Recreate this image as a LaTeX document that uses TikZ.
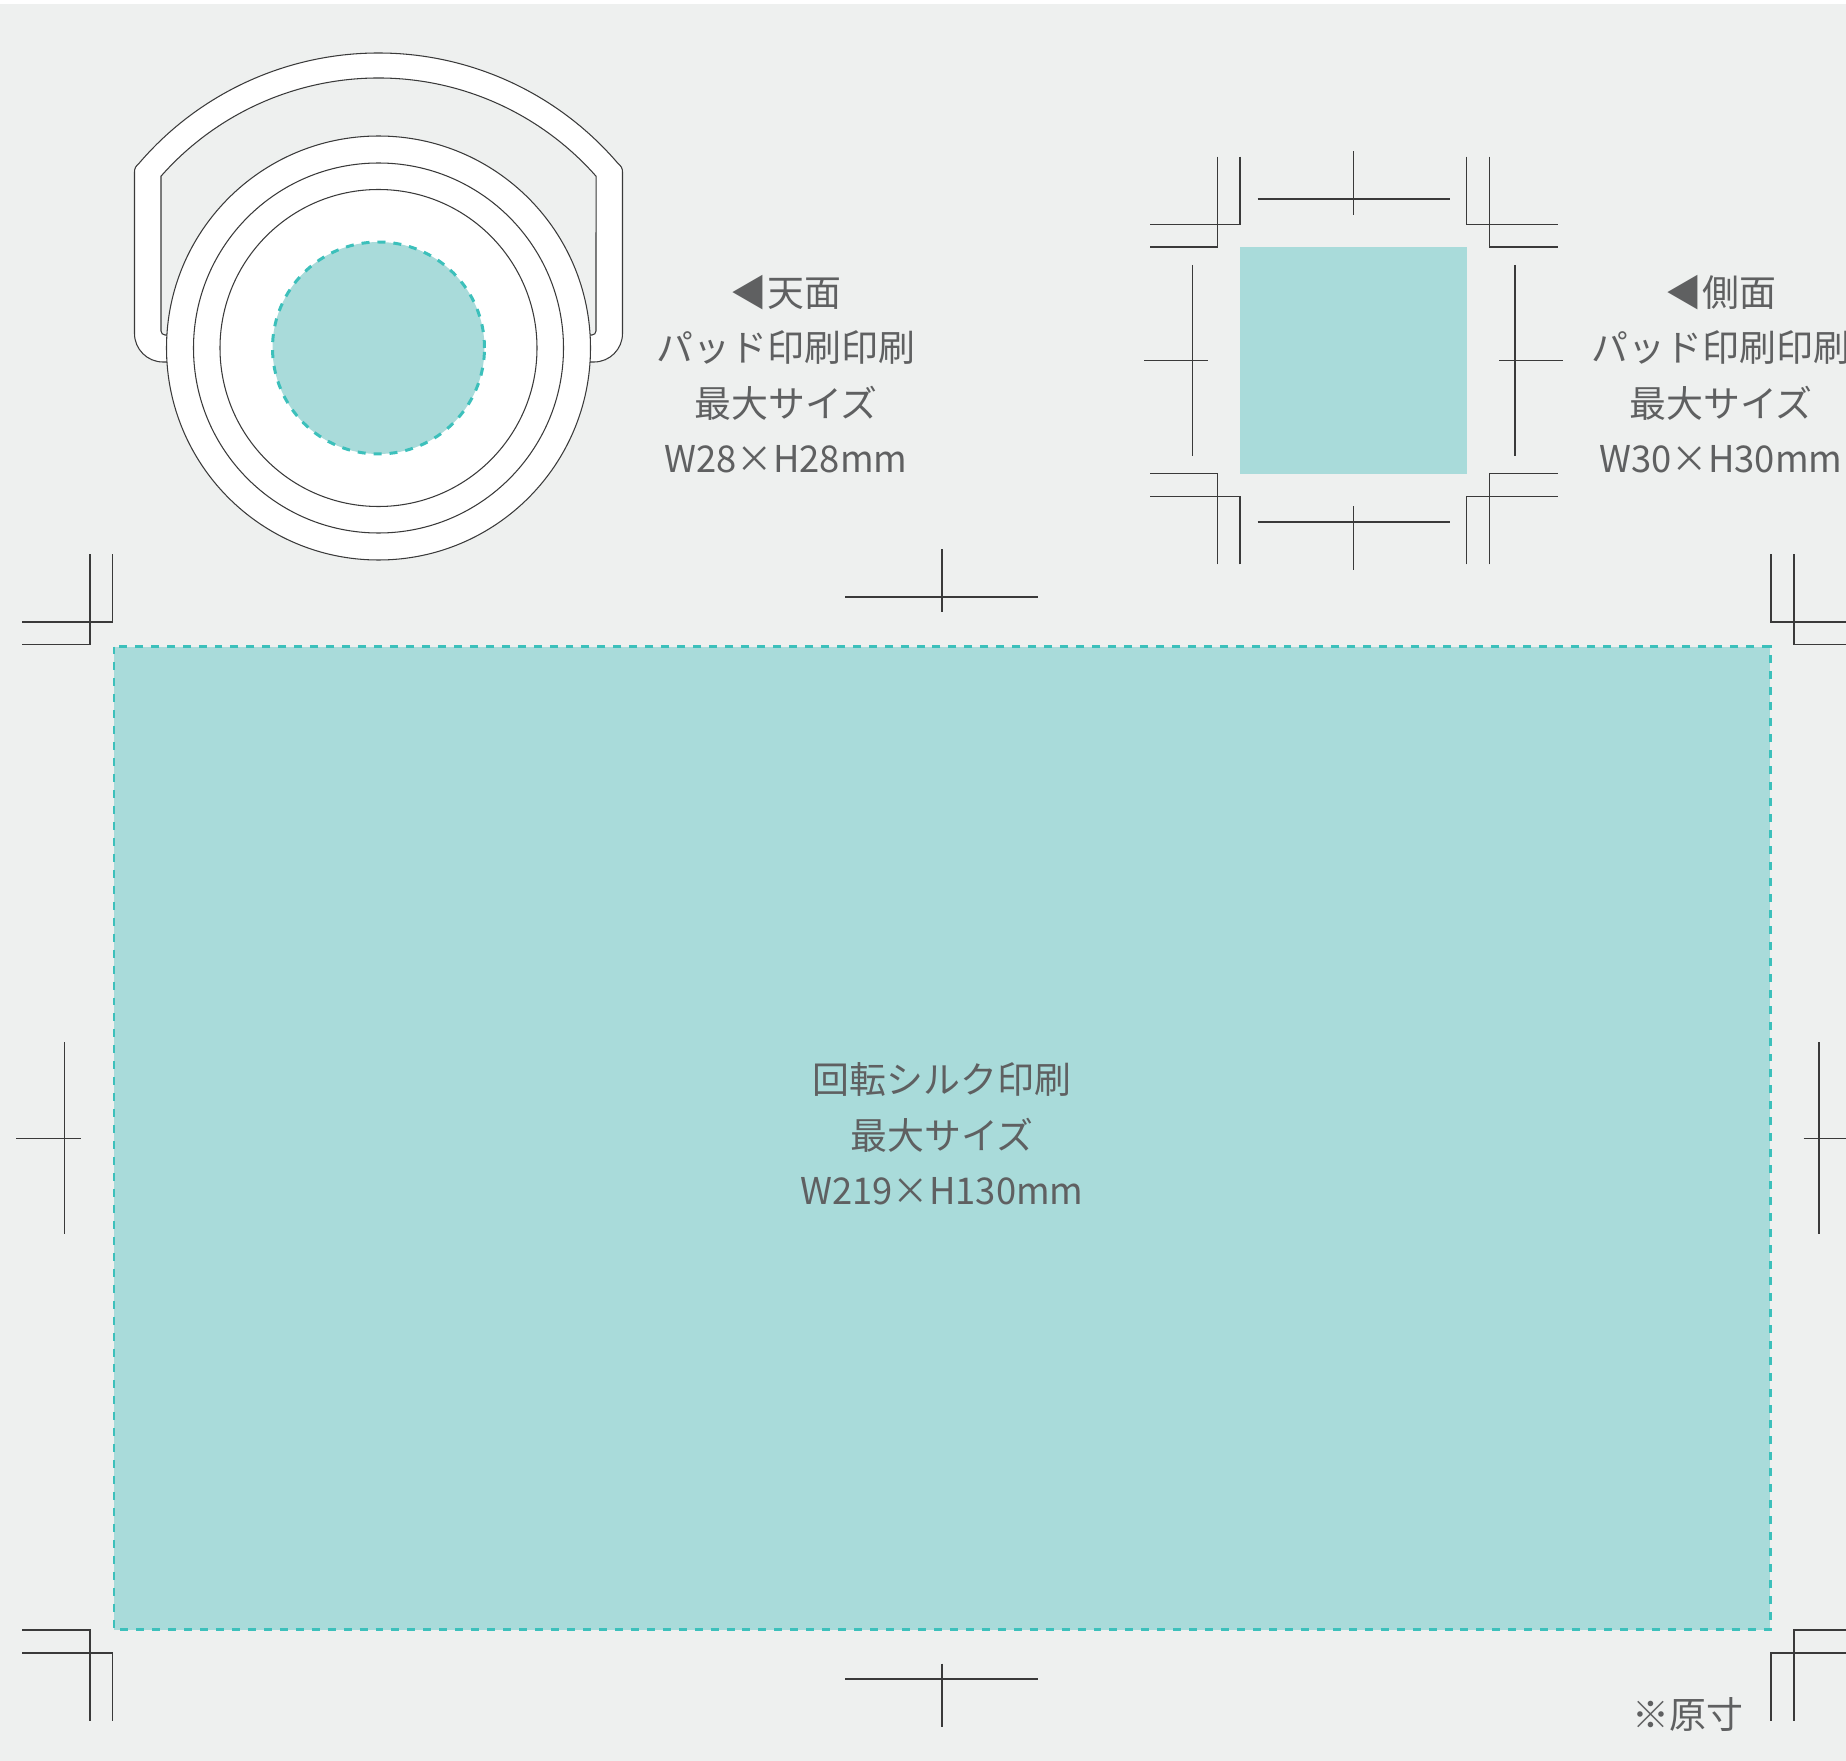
\documentclass[tikz,border=0pt]{standalone}
\usepackage{fontspec}
\setmainfont{Noto Sans CJK JP}
\newfontfamily\sizefont[FakeStretch=0.985]{Noto Sans CJK JP}
\usepackage{tikz}
\definecolor{panelgray}{HTML}{EEF0EF}
\definecolor{printteal}{HTML}{A9DBDA}
\definecolor{dashteal}{HTML}{3CC0BB}
\definecolor{labelgray}{HTML}{5F6061}
\definecolor{linegray}{HTML}{3A3A3A}
\begin{document}
\begin{tikzpicture}[scale=0.1]
\tikzstyle{every node}+=[inner sep=0pt]
\tikzstyle{trim}=[linegray,line width=0.3pt]
\tikzstyle{outline}=[draw=linegray,line width=0.3pt,fill=white]
\tikzstyle{hollow}=[draw=linegray,line width=0.3pt,fill=panelgray]
\tikzstyle{printarea}=[fill=printteal,draw=dashteal,line width=0.85pt,dash pattern=on 2.27pt off 2.27pt]
\tikzstyle{caption}=[align=center,text=labelgray,font=\fontsize{10.5pt}{15.75pt}\selectfont]
\useasboundingbox (0,0) rectangle (184.6,-176.1);
\fill [panelgray] (0,-0.4) rectangle (184.6,-176.1);
% top view
\draw [outline] (16.7,-36.2) -- (16.3,-36.2) arc (270:180:2.85) -- (13.45,-17.2) .. controls (13.45,-16.8) and (13.6,-16.6) .. (13.93,-16.3) arc (139.4:40.6:31.5) .. controls (62.1,-16.6) and (62.25,-16.8) .. (62.25,-17.2) -- (62.25,-33.35) arc (0:-90:2.85) -- (59,-36.2) -- cycle;
\draw [hollow] (16.7,-33.5) -- (16.5,-33.5) arc (270:180:0.4) -- (16.1,-17.62) arc (138.6:41.4:29) -- (59.6,-33.1) arc (0:-90:0.4) -- (59,-33.5) -- cycle;
\draw [outline] (37.85,-34.8) circle (21.2);
\draw [outline] (37.85,-34.8) circle (18.5);
\draw [outline] (37.85,-34.8) circle (15.85);
\draw [printarea] (37.85,-34.8) circle (10.6);
\node (topcaption) [caption] at (78.6,-37.4) {◀天面\\パッド印刷印刷\\最大サイズ\\{\sizefont W28×H28mm}};
% side view
\fill [printteal] (124,-24.7) rectangle (146.7,-47.37);
\draw [trim] (124,-15.67) -- (124,-22.43) -- (114.96,-22.43);
\draw [trim] (121.72,-15.67) -- (121.72,-24.7) -- (114.96,-24.7);
\draw [trim] (146.68,-15.67) -- (146.68,-22.43) -- (155.75,-22.43);
\draw [trim] (148.94,-15.67) -- (148.94,-24.7) -- (155.75,-24.7);
\draw [trim] (124,-56.43) -- (124,-49.67) -- (114.96,-49.67);
\draw [trim] (121.72,-56.43) -- (121.72,-47.37) -- (114.96,-47.37);
\draw [trim] (146.68,-56.43) -- (146.68,-49.67) -- (155.75,-49.67);
\draw [trim] (148.94,-56.43) -- (148.94,-47.37) -- (155.75,-47.37);
\draw [trim] (125.75,-19.9) -- (144.96,-19.9);
\draw [trim] (135.38,-15.13) -- (135.38,-21.47);
\draw [trim] (125.75,-52.2) -- (144.96,-52.2);
\draw [trim] (135.38,-50.63) -- (135.38,-56.97);
\draw [trim] (119.22,-26.5) -- (119.22,-45.63);
\draw [trim] (114.4,-36.03) -- (120.8,-36.03);
\draw [trim] (151.5,-26.5) -- (151.5,-45.63);
\draw [trim] (149.9,-36.03) -- (156.3,-36.03);
\node (sidecaption) [caption] at (172.1,-37.4) {◀側面\\パッド印刷印刷\\最大サイズ\\{\sizefont W30×H30mm}};
% body
\draw [printarea] (11.4,-64.65) rectangle (177,-162.95);
\draw [trim] (11.27,-55.4) -- (11.27,-62.2) -- (2.2,-62.2);
\draw [trim] (9,-55.4) -- (9,-64.47) -- (2.2,-64.47);
\draw [trim] (177.1,-55.4) -- (177.1,-62.2) -- (184.6,-62.2);
\draw [trim] (179.4,-55.4) -- (179.4,-64.47) -- (184.6,-64.47);
\draw [trim] (11.27,-172.07) -- (11.27,-165.3) -- (2.2,-165.3);
\draw [trim] (9,-172.07) -- (9,-163) -- (2.2,-163);
\draw [trim] (177.1,-172.07) -- (177.1,-165.3) -- (184.6,-165.3);
\draw [trim] (179.4,-172.07) -- (179.4,-163) -- (184.6,-163);
\draw [trim] (84.5,-59.7) -- (103.8,-59.7);
\draw [trim] (94.2,-54.9) -- (94.2,-61.2);
\draw [trim] (84.5,-167.9) -- (103.8,-167.9);
\draw [trim] (94.2,-166.35) -- (94.2,-172.7);
\draw [trim] (6.47,-104.2) -- (6.47,-123.4);
\draw [trim] (1.65,-113.85) -- (8.1,-113.85);
\draw [trim] (181.9,-104.2) -- (181.9,-123.4);
\draw [trim] (180.36,-113.85) -- (184.6,-113.85);
\node (bodycaption) [caption] at (94.2,-113.4) {回転シルク印刷\\最大サイズ\\{\sizefont W219×H130mm}};
\node (scalenote) [caption] at (168.8,-171.5) {※原寸};
\end{tikzpicture}
\end{document}
